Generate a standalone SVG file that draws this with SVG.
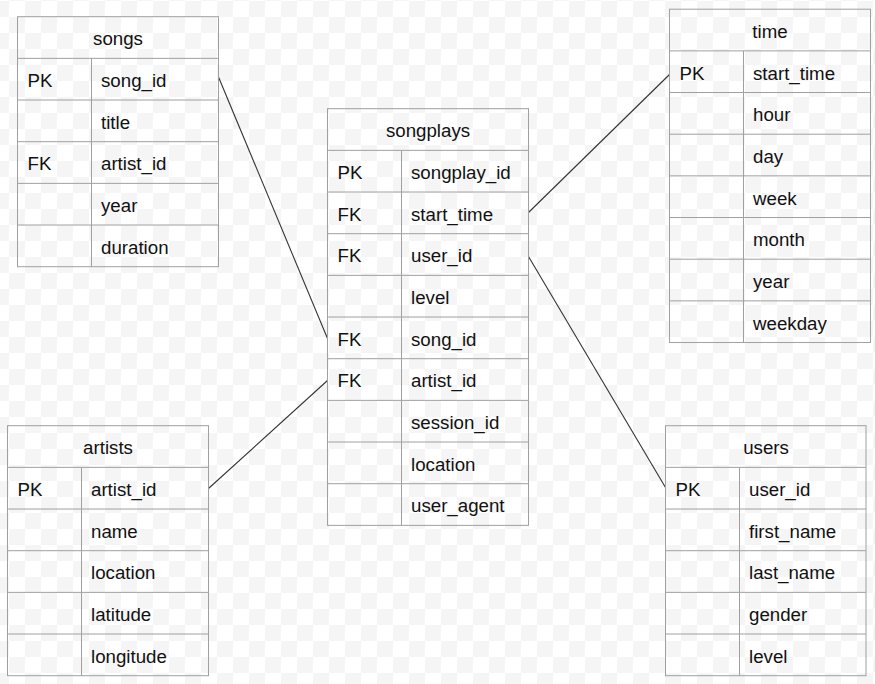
<svg xmlns="http://www.w3.org/2000/svg" width="875" height="684" viewBox="0 0 875 684">
<defs>
<pattern id="checker" x="9" y="1" width="32" height="32" patternUnits="userSpaceOnUse">
<rect x="0" y="0" width="32" height="32" fill="#ffffff"/>
<rect x="16" y="0" width="16" height="16" fill="#f5f5f5"/>
<rect x="0" y="16" width="16" height="16" fill="#f5f5f5"/>
</pattern>
<style>
.frame{fill:none;stroke:#a0a0a0;stroke-width:1}
.sep{stroke:#a0a0a0;stroke-width:1}
.t{font-family:"Liberation Sans",Arial,Helvetica,sans-serif;font-size:18.7px;fill:#111}
.h{text-anchor:middle}
.conn{stroke:#333;stroke-width:1.1;fill:none}
</style>
</defs>
<rect x="0" y="0" width="875" height="684" fill="url(#checker)"/>

<g id="connectors">
<line class="conn" x1="218.5" y1="77" x2="327.5" y2="338.5"/>
<line class="conn" x1="208.5" y1="488.5" x2="327.5" y2="380.5"/>
<line class="conn" x1="528.5" y1="212.5" x2="669.5" y2="74.5"/>
<line class="conn" x1="528.5" y1="256.5" x2="665.5" y2="487.5"/>
</g>

<g id="songs">
<rect class="frame" x="17.5" y="16.7" width="201" height="250"/>
<line class="sep" x1="17.5" y1="58.37" x2="218.5" y2="58.37"/>
<line class="sep" x1="17.5" y1="100.03" x2="218.5" y2="100.03"/>
<line class="sep" x1="17.5" y1="141.7" x2="218.5" y2="141.7"/>
<line class="sep" x1="17.5" y1="183.37" x2="218.5" y2="183.37"/>
<line class="sep" x1="17.5" y1="225.03" x2="218.5" y2="225.03"/>
<line class="sep" x1="91.5" y1="58.37" x2="91.5" y2="266.7"/>
<text class="t h" x="118" y="45.3">songs</text>
<text class="t" x="27.5" y="87">PK</text><text class="t" x="101" y="87">song_id</text>
<text class="t" x="101" y="128.6">title</text>
<text class="t" x="27.5" y="170.3">FK</text><text class="t" x="101" y="170.3">artist_id</text>
<text class="t" x="101" y="212">year</text>
<text class="t" x="101" y="253.6">duration</text>
</g>

<g id="songplays">
<rect class="frame" x="327.5" y="108.7" width="201" height="416.67"/>
<line class="sep" x1="327.5" y1="150.37" x2="528.5" y2="150.37"/>
<line class="sep" x1="327.5" y1="192.03" x2="528.5" y2="192.03"/>
<line class="sep" x1="327.5" y1="233.7" x2="528.5" y2="233.7"/>
<line class="sep" x1="327.5" y1="275.37" x2="528.5" y2="275.37"/>
<line class="sep" x1="327.5" y1="317.03" x2="528.5" y2="317.03"/>
<line class="sep" x1="327.5" y1="358.7" x2="528.5" y2="358.7"/>
<line class="sep" x1="327.5" y1="400.37" x2="528.5" y2="400.37"/>
<line class="sep" x1="327.5" y1="442.03" x2="528.5" y2="442.03"/>
<line class="sep" x1="327.5" y1="483.7" x2="528.5" y2="483.7"/>
<line class="sep" x1="401.5" y1="150.37" x2="401.5" y2="525.37"/>
<text class="t h" x="428" y="137.3">songplays</text>
<text class="t" x="337.5" y="179">PK</text><text class="t" x="411" y="179">songplay_id</text>
<text class="t" x="337.5" y="220.6">FK</text><text class="t" x="411" y="220.6">start_time</text>
<text class="t" x="337.5" y="262.3">FK</text><text class="t" x="411" y="262.3">user_id</text>
<text class="t" x="411" y="304">level</text>
<text class="t" x="337.5" y="345.6">FK</text><text class="t" x="411" y="345.6">song_id</text>
<text class="t" x="337.5" y="387.3">FK</text><text class="t" x="411" y="387.3">artist_id</text>
<text class="t" x="411" y="429">session_id</text>
<text class="t" x="411" y="470.6">location</text>
<text class="t" x="411" y="512.3">user_agent</text>
</g>

<g id="time">
<rect class="frame" x="669.5" y="9.2" width="201" height="333.33"/>
<line class="sep" x1="669.5" y1="50.87" x2="870.5" y2="50.87"/>
<line class="sep" x1="669.5" y1="92.53" x2="870.5" y2="92.53"/>
<line class="sep" x1="669.5" y1="134.2" x2="870.5" y2="134.2"/>
<line class="sep" x1="669.5" y1="175.87" x2="870.5" y2="175.87"/>
<line class="sep" x1="669.5" y1="217.53" x2="870.5" y2="217.53"/>
<line class="sep" x1="669.5" y1="259.2" x2="870.5" y2="259.2"/>
<line class="sep" x1="669.5" y1="300.87" x2="870.5" y2="300.87"/>
<line class="sep" x1="743.5" y1="50.87" x2="743.5" y2="342.53"/>
<text class="t h" x="770" y="37.8">time</text>
<text class="t" x="679.5" y="79.5">PK</text><text class="t" x="753" y="79.5">start_time</text>
<text class="t" x="753" y="121.1">hour</text>
<text class="t" x="753" y="162.8">day</text>
<text class="t" x="753" y="204.5">week</text>
<text class="t" x="753" y="246.1">month</text>
<text class="t" x="753" y="287.8">year</text>
<text class="t" x="753" y="329.5">weekday</text>
</g>

<g id="artists">
<rect class="frame" x="7.5" y="425.7" width="201" height="250"/>
<line class="sep" x1="7.5" y1="467.37" x2="208.5" y2="467.37"/>
<line class="sep" x1="7.5" y1="509.03" x2="208.5" y2="509.03"/>
<line class="sep" x1="7.5" y1="550.7" x2="208.5" y2="550.7"/>
<line class="sep" x1="7.5" y1="592.37" x2="208.5" y2="592.37"/>
<line class="sep" x1="7.5" y1="634.03" x2="208.5" y2="634.03"/>
<line class="sep" x1="81.5" y1="467.37" x2="81.5" y2="675.7"/>
<text class="t h" x="108" y="454.3">artists</text>
<text class="t" x="17.5" y="496">PK</text><text class="t" x="91" y="496">artist_id</text>
<text class="t" x="91" y="537.6">name</text>
<text class="t" x="91" y="579.3">location</text>
<text class="t" x="91" y="621">latitude</text>
<text class="t" x="91" y="662.6">longitude</text>
</g>

<g id="users">
<rect class="frame" x="665.5" y="425.7" width="200.5" height="250"/>
<line class="sep" x1="665.5" y1="467.37" x2="866" y2="467.37"/>
<line class="sep" x1="665.5" y1="509.03" x2="866" y2="509.03"/>
<line class="sep" x1="665.5" y1="550.7" x2="866" y2="550.7"/>
<line class="sep" x1="665.5" y1="592.37" x2="866" y2="592.37"/>
<line class="sep" x1="665.5" y1="634.03" x2="866" y2="634.03"/>
<line class="sep" x1="739.5" y1="467.37" x2="739.5" y2="675.7"/>
<text class="t h" x="766" y="454.3">users</text>
<text class="t" x="675.5" y="496">PK</text><text class="t" x="749" y="496">user_id</text>
<text class="t" x="749" y="537.6">first_name</text>
<text class="t" x="749" y="579.3">last_name</text>
<text class="t" x="749" y="621">gender</text>
<text class="t" x="749" y="662.6">level</text>
</g>
</svg>
